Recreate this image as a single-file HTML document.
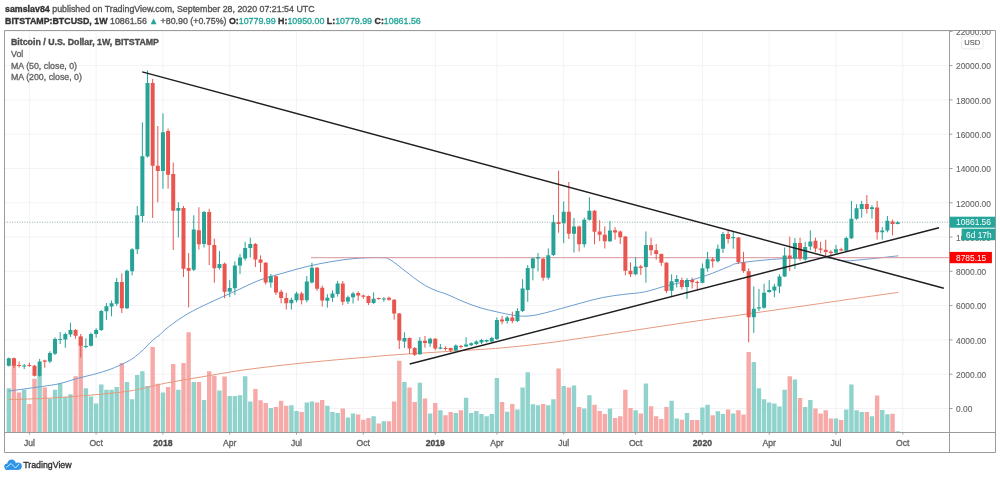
<!DOCTYPE html><html><head><meta charset="utf-8"><style>
html,body{margin:0;padding:0;background:#fff;width:1000px;height:478px;overflow:hidden}
svg{position:absolute;left:0;top:0;will-change:transform}
text{font-family:"Liberation Sans",sans-serif;stroke-width:0.35px}
</style></head><body>
<svg width="1000" height="478" viewBox="0 0 1000 478">
<text x="5" y="12" font-size="8.85" fill="#555" stroke="#555"><tspan font-weight="bold" fill="#333" stroke="#333">samslav84</tspan> published on TradingView.com, September 28, 2020 07:21:54 UTC</text>
<text x="5" y="24" font-size="8.85" fill="#555" stroke="#555"><tspan font-weight="bold" fill="#333" stroke="#333">BITSTAMP:BTCUSD, 1W</tspan> 10861.56 <tspan fill="#26a69a" stroke="#26a69a">&#9650;</tspan> +80.90 (+0.75%) <tspan font-weight="bold" fill="#333" stroke="#333">O:</tspan><tspan fill="#26a69a" stroke="#26a69a">10779.99</tspan> <tspan font-weight="bold" fill="#333" stroke="#333">H:</tspan><tspan fill="#26a69a" stroke="#26a69a">10950.00</tspan> <tspan font-weight="bold" fill="#333" stroke="#333">L:</tspan><tspan fill="#26a69a" stroke="#26a69a">10779.99</tspan> <tspan font-weight="bold" fill="#333" stroke="#333">C:</tspan><tspan fill="#26a69a" stroke="#26a69a">10861.56</tspan></text>
<defs><clipPath id="pc"><rect x="4.5" y="30.5" width="945.0" height="402.0"/></clipPath>
<clipPath id="ac"><rect x="949.5" y="30.5" width="46.0" height="402.0"/></clipPath></defs>
<path d="M4.5 408.5H949.5M4.5 374.2H949.5M4.5 339.9H949.5M4.5 305.6H949.5M4.5 271.3H949.5M4.5 237.0H949.5M4.5 202.8H949.5M4.5 168.5H949.5M4.5 134.2H949.5M4.5 99.9H949.5M4.5 65.6H949.5M4.5 31.3H949.5M29.4 30.5V432.5M96.1 30.5V432.5M162.9 30.5V432.5M229.7 30.5V432.5M296.5 30.5V432.5M363.3 30.5V432.5M435.3 30.5V432.5M496.9 30.5V432.5M563.7 30.5V432.5M635.6 30.5V432.5M702.4 30.5V432.5M769.2 30.5V432.5M836.0 30.5V432.5M902.8 30.5V432.5" stroke="#f3f3f7" stroke-width="1" fill="none" clip-path="url(#pc)"/>
<g clip-path="url(#pc)">
<path d="M6.60 388.2h4.4V432.5h-4.4ZM22.01 389.8h4.4V432.5h-4.4ZM37.43 375.0h4.4V432.5h-4.4ZM47.70 398.6h4.4V432.5h-4.4ZM52.84 389.8h4.4V432.5h-4.4ZM57.98 383.2h4.4V432.5h-4.4ZM63.12 397.0h4.4V432.5h-4.4ZM68.26 394.2h4.4V432.5h-4.4ZM83.67 388.2h4.4V432.5h-4.4ZM88.81 396.4h4.4V432.5h-4.4ZM93.95 403.6h4.4V432.5h-4.4ZM99.08 384.5h4.4V432.5h-4.4ZM104.22 389.8h4.4V432.5h-4.4ZM109.36 389.8h4.4V432.5h-4.4ZM114.50 387.1h4.4V432.5h-4.4ZM124.77 382.1h4.4V432.5h-4.4ZM129.91 399.2h4.4V432.5h-4.4ZM135.05 375.0h4.4V432.5h-4.4ZM140.19 371.3h4.4V432.5h-4.4ZM145.33 386.0h4.4V432.5h-4.4ZM160.74 392.6h4.4V432.5h-4.4ZM176.15 389.8h4.4V432.5h-4.4ZM191.57 382.1h4.4V432.5h-4.4ZM201.84 399.9h4.4V432.5h-4.4ZM217.26 390.4h4.4V432.5h-4.4ZM227.53 395.9h4.4V432.5h-4.4ZM232.67 395.9h4.4V432.5h-4.4ZM237.81 395.3h4.4V432.5h-4.4ZM242.95 376.2h4.4V432.5h-4.4ZM248.09 401.4h4.4V432.5h-4.4ZM268.64 408.0h4.4V432.5h-4.4ZM289.19 405.2h4.4V432.5h-4.4ZM294.33 410.9h4.4V432.5h-4.4ZM304.60 402.5h4.4V432.5h-4.4ZM309.74 401.4h4.4V432.5h-4.4ZM325.16 405.8h4.4V432.5h-4.4ZM330.29 412.0h4.4V432.5h-4.4ZM335.43 413.1h4.4V432.5h-4.4ZM345.71 417.5h4.4V432.5h-4.4ZM350.85 413.5h4.4V432.5h-4.4ZM371.40 416.2h4.4V432.5h-4.4ZM381.67 421.2h4.4V432.5h-4.4ZM402.23 382.1h4.4V432.5h-4.4ZM417.64 382.7h4.4V432.5h-4.4ZM427.92 413.5h4.4V432.5h-4.4ZM438.19 410.2h4.4V432.5h-4.4ZM453.61 413.1h4.4V432.5h-4.4ZM463.88 397.7h4.4V432.5h-4.4ZM469.02 413.1h4.4V432.5h-4.4ZM474.16 410.9h4.4V432.5h-4.4ZM479.30 414.0h4.4V432.5h-4.4ZM484.43 416.2h4.4V432.5h-4.4ZM489.57 414.0h4.4V432.5h-4.4ZM494.71 377.9h4.4V432.5h-4.4ZM504.99 411.8h4.4V432.5h-4.4ZM515.26 409.6h4.4V432.5h-4.4ZM520.40 387.6h4.4V432.5h-4.4ZM525.54 372.2h4.4V432.5h-4.4ZM530.68 404.3h4.4V432.5h-4.4ZM535.81 405.2h4.4V432.5h-4.4ZM546.09 405.2h4.4V432.5h-4.4ZM551.23 399.2h4.4V432.5h-4.4ZM561.50 386.0h4.4V432.5h-4.4ZM571.78 385.4h4.4V432.5h-4.4ZM582.06 408.5h4.4V432.5h-4.4ZM587.19 395.3h4.4V432.5h-4.4ZM607.75 408.5h4.4V432.5h-4.4ZM633.44 410.2h4.4V432.5h-4.4ZM643.71 383.4h4.4V432.5h-4.4ZM669.40 400.8h4.4V432.5h-4.4ZM674.54 418.6h4.4V432.5h-4.4ZM684.82 413.1h4.4V432.5h-4.4ZM700.23 407.4h4.4V432.5h-4.4ZM705.37 404.7h4.4V432.5h-4.4ZM715.64 411.3h4.4V432.5h-4.4ZM720.78 414.0h4.4V432.5h-4.4ZM731.06 413.5h4.4V432.5h-4.4ZM751.61 361.9h4.4V432.5h-4.4ZM756.75 388.2h4.4V432.5h-4.4ZM761.89 399.2h4.4V432.5h-4.4ZM767.02 402.5h4.4V432.5h-4.4ZM772.16 403.6h4.4V432.5h-4.4ZM777.30 406.5h4.4V432.5h-4.4ZM782.44 389.8h4.4V432.5h-4.4ZM792.71 379.5h4.4V432.5h-4.4ZM802.99 406.9h4.4V432.5h-4.4ZM808.13 399.9h4.4V432.5h-4.4ZM833.82 418.6h4.4V432.5h-4.4ZM844.09 409.6h4.4V432.5h-4.4ZM849.23 384.5h4.4V432.5h-4.4ZM854.37 410.2h4.4V432.5h-4.4ZM859.51 412.0h4.4V432.5h-4.4ZM869.78 416.2h4.4V432.5h-4.4ZM880.06 410.0h4.4V432.5h-4.4ZM885.20 414.2h4.4V432.5h-4.4ZM895.47 431.2h4.4V432.5h-4.4Z" fill="#8fd3cc"/>
<path d="M11.74 358.6h4.4V432.5h-4.4ZM16.88 392.6h4.4V432.5h-4.4ZM27.15 404.0h4.4V432.5h-4.4ZM32.29 378.8h4.4V432.5h-4.4ZM42.57 387.6h4.4V432.5h-4.4ZM73.39 376.2h4.4V432.5h-4.4ZM78.53 336.6h4.4V432.5h-4.4ZM119.64 363.0h4.4V432.5h-4.4ZM150.46 347.1h4.4V432.5h-4.4ZM155.60 383.8h4.4V432.5h-4.4ZM165.88 387.1h4.4V432.5h-4.4ZM171.02 364.1h4.4V432.5h-4.4ZM181.29 363.0h4.4V432.5h-4.4ZM186.43 332.2h4.4V432.5h-4.4ZM196.71 382.1h4.4V432.5h-4.4ZM206.98 371.3h4.4V432.5h-4.4ZM212.12 375.7h4.4V432.5h-4.4ZM222.40 376.6h4.4V432.5h-4.4ZM253.22 388.9h4.4V432.5h-4.4ZM258.36 400.3h4.4V432.5h-4.4ZM263.50 403.0h4.4V432.5h-4.4ZM273.78 406.9h4.4V432.5h-4.4ZM278.91 400.8h4.4V432.5h-4.4ZM284.05 405.8h4.4V432.5h-4.4ZM299.47 412.0h4.4V432.5h-4.4ZM314.88 402.5h4.4V432.5h-4.4ZM320.02 399.9h4.4V432.5h-4.4ZM340.57 408.5h4.4V432.5h-4.4ZM355.98 414.6h4.4V432.5h-4.4ZM361.12 419.7h4.4V432.5h-4.4ZM366.26 417.9h4.4V432.5h-4.4ZM376.54 423.4h4.4V432.5h-4.4ZM386.81 421.2h4.4V432.5h-4.4ZM391.95 401.4h4.4V432.5h-4.4ZM397.09 360.8h4.4V432.5h-4.4ZM407.36 387.6h4.4V432.5h-4.4ZM412.50 402.1h4.4V432.5h-4.4ZM422.78 398.6h4.4V432.5h-4.4ZM433.05 403.0h4.4V432.5h-4.4ZM443.33 415.3h4.4V432.5h-4.4ZM448.47 412.0h4.4V432.5h-4.4ZM458.74 410.2h4.4V432.5h-4.4ZM499.85 402.1h4.4V432.5h-4.4ZM510.12 404.1h4.4V432.5h-4.4ZM540.95 404.1h4.4V432.5h-4.4ZM556.37 368.5h4.4V432.5h-4.4ZM566.64 387.6h4.4V432.5h-4.4ZM576.92 406.9h4.4V432.5h-4.4ZM592.33 404.7h4.4V432.5h-4.4ZM597.47 410.9h4.4V432.5h-4.4ZM602.61 414.0h4.4V432.5h-4.4ZM612.88 417.9h4.4V432.5h-4.4ZM618.02 416.2h4.4V432.5h-4.4ZM623.16 389.8h4.4V432.5h-4.4ZM628.30 408.0h4.4V432.5h-4.4ZM638.57 413.5h4.4V432.5h-4.4ZM648.85 406.3h4.4V432.5h-4.4ZM653.99 416.2h4.4V432.5h-4.4ZM659.13 419.0h4.4V432.5h-4.4ZM664.26 406.9h4.4V432.5h-4.4ZM679.68 419.7h4.4V432.5h-4.4ZM689.95 420.1h4.4V432.5h-4.4ZM695.09 420.1h4.4V432.5h-4.4ZM710.51 415.3h4.4V432.5h-4.4ZM725.92 409.6h4.4V432.5h-4.4ZM736.20 410.2h4.4V432.5h-4.4ZM741.33 414.6h4.4V432.5h-4.4ZM746.47 352.0h4.4V432.5h-4.4ZM787.58 376.2h4.4V432.5h-4.4ZM797.85 398.1h4.4V432.5h-4.4ZM813.27 408.5h4.4V432.5h-4.4ZM818.40 413.5h4.4V432.5h-4.4ZM823.54 410.2h4.4V432.5h-4.4ZM828.68 418.4h4.4V432.5h-4.4ZM838.96 420.1h4.4V432.5h-4.4ZM864.65 412.0h4.4V432.5h-4.4ZM874.92 395.5h4.4V432.5h-4.4ZM890.34 413.8h4.4V432.5h-4.4Z" fill="#f6a9a7"/>
<path d="M8.4 399.5 C14.0 399.3 29.2 399.1 41.8 398.5 C54.3 397.9 69.8 396.8 83.7 395.7 C97.7 394.6 115.0 393.0 125.5 391.6 C135.9 390.2 139.4 389.0 146.4 387.5 C153.4 386.0 158.5 384.5 167.4 382.8 C176.3 381.1 187.6 379.3 200.0 377.2 C212.4 375.1 228.0 372.2 242.0 370.2 C256.0 368.2 270.1 366.6 284.0 365.0 C297.9 363.4 311.7 362.1 325.5 360.8 C339.3 359.5 354.6 358.2 367.0 357.2 C379.4 356.1 382.0 355.7 400.0 354.5 C418.0 353.3 457.5 350.9 475.0 349.8 C492.5 348.7 494.2 348.6 505.0 347.6 C515.8 346.6 528.3 345.3 540.0 343.9 C551.7 342.5 559.2 341.4 575.0 339.1 C590.8 336.8 613.8 333.4 635.0 330.2 C656.2 327.0 684.5 322.7 702.0 320.2 C719.5 317.7 723.2 317.4 740.0 315.0 C756.8 312.6 785.5 308.5 803.0 306.0 C820.5 303.5 829.1 302.2 845.0 299.9 C860.9 297.6 889.5 293.6 898.4 292.4" stroke="#e49a7e" stroke-width="1" fill="none"/>
<path d="M8.4 391.1 C14.0 390.3 33.2 387.8 41.8 386.5 C50.4 385.2 54.2 384.9 60.0 383.6 C65.8 382.3 71.1 380.1 76.7 378.6 C82.3 377.1 88.0 375.9 93.5 374.4 C99.0 372.9 104.4 371.5 110.0 369.4 C115.6 367.3 122.8 363.9 127.0 361.8 C131.2 359.7 132.5 358.6 135.3 356.5 C138.1 354.4 140.9 351.9 143.7 349.3 C146.5 346.7 149.2 343.4 152.0 340.9 C154.8 338.4 157.6 336.6 160.4 334.2 C163.2 331.8 164.2 330.1 168.8 326.7 C173.4 323.3 180.8 317.8 188.0 313.6 C195.2 309.4 204.0 305.4 212.0 301.6 C220.0 297.8 228.0 294.4 236.0 290.8 C244.0 287.2 252.0 283.0 260.0 280.0 C268.0 277.0 276.0 275.1 284.0 272.8 C292.0 270.5 300.0 268.2 308.0 266.3 C316.0 264.4 324.0 262.8 332.0 261.5 C340.0 260.2 348.0 259.0 356.0 258.4 C364.0 257.8 374.3 257.4 380.0 257.6 C385.7 257.8 385.8 257.5 390.0 259.7 C394.2 261.9 399.7 266.9 405.0 270.9 C410.3 274.9 417.0 280.3 422.0 283.5 C427.0 286.7 430.8 288.4 435.0 290.2 C439.2 292.0 442.2 292.4 447.0 294.4 C451.8 296.3 458.5 299.7 464.0 301.9 C469.5 304.1 474.5 306.0 480.0 307.7 C485.5 309.4 491.3 310.6 497.0 311.9 C502.7 313.2 509.0 314.6 514.0 315.3 C519.0 316.0 522.7 316.3 527.0 316.1 C531.3 315.9 534.4 315.4 540.0 314.1 C545.6 312.9 553.9 310.5 560.9 308.6 C567.9 306.7 574.8 304.7 581.8 302.8 C588.8 300.9 595.8 298.9 602.8 297.5 C609.8 296.1 616.7 295.3 623.7 294.4 C630.7 293.5 637.6 293.3 644.6 291.9 C651.6 290.5 658.5 287.8 665.5 286.0 C672.5 284.2 679.4 283.2 686.4 281.4 C693.4 279.6 700.4 277.5 707.4 275.1 C714.4 272.7 722.9 268.8 728.3 266.8 C733.7 264.8 731.1 264.2 740.0 262.9 C748.9 261.5 767.8 259.6 781.8 258.7 C795.8 257.8 813.2 257.3 823.7 257.7 C834.2 258.1 837.6 260.5 844.6 260.8 C851.6 261.1 856.5 260.1 865.5 259.3 C874.5 258.5 892.9 256.4 898.4 255.8" stroke="#6c9dd0" stroke-width="1" fill="none"/>
<path d="M311 257.7H949.5" stroke="#d9959d" stroke-width="1" fill="none"/>
<path d="M4.5 222.2H949.5" stroke="#7d9995" stroke-width="1" stroke-dasharray="1,1.5" fill="none" opacity="0.8"/>
<path d="M8.80 357.5V366.5M24.21 364.0V369.0M39.63 358.9V376.5M49.90 351.3V363.2M55.04 337.3V355.0M60.18 332.0V344.0M65.32 332.6V347.7M70.46 322.8V337.0M85.87 338.3V348.3M91.01 332.5V346.5M96.15 328.2V337.6M101.28 310.0V331.0M106.42 303.0V320.0M111.56 300.5V316.3M116.70 278.0V305.8M126.97 269.5V309.0M132.11 248.2V275.4M137.25 206.0V254.0M142.39 122.3V222.2M147.53 70.5V157.5M162.94 113.3V188.7M178.35 202.3V237.5M193.77 215.3V271.0M204.04 211.0V247.5M219.46 251.0V269.7M229.73 280.2V297.0M234.87 261.4V294.9M240.01 254.0V274.0M245.15 241.8V260.7M250.29 237.7V257.5M270.84 274.0V287.7M291.39 297.7V309.6M296.53 291.8V302.3M306.80 276.0V302.3M311.94 262.6V283.5M327.36 294.2V307.6M332.49 290.3V301.8M337.63 280.9V296.6M347.91 295.6V304.0M353.05 291.8V303.5M373.60 292.4V304.0M383.87 297.2V301.8M404.43 332.4V348.0M419.84 337.2V354.8M430.12 337.7V347.0M440.39 344.0V349.2M455.81 344.4V351.3M466.08 337.3V347.0M471.22 342.3V346.0M476.36 340.4V345.2M481.50 338.9V344.1M486.63 339.5V342.5M491.77 336.8V342.0M496.91 317.4V340.0M507.19 315.9V323.6M517.46 308.2V322.0M522.60 279.2V312.0M527.74 265.1V301.9M532.88 257.5V280.3M538.01 253.0V271.4M548.29 248.4V279.7M553.43 215.0V256.0M563.70 201.4V243.2M573.98 218.0V252.6M584.26 217.7V247.4M589.39 197.2V220.5M609.95 220.9V242.0M635.64 257.5V275.3M645.91 231.4V282.6M671.60 274.3V296.2M676.74 275.0V287.5M687.02 278.0V298.9M702.43 263.4V283.2M707.57 251.8V271.7M717.84 244.5V262.3M722.98 232.0V252.9M733.26 232.0V248.7M753.81 286.4V332.9M758.95 289.0V311.0M764.09 283.7V308.8M769.22 280.1V292.7M774.36 283.7V297.3M779.50 274.3V293.1M784.64 247.5V277.0M794.91 238.0V269.0M805.19 241.8V260.7M810.33 230.3V250.2M836.02 245.0V254.4M846.29 236.6V251.9M851.43 200.9V239.0M856.57 204.2V219.8M861.71 200.9V217.7M871.98 205.1V218.7M882.26 227.0V239.6M887.40 216.0V232.3M897.67 221.2V224.4" stroke="#26a296" stroke-width="1" fill="none"/>
<path d="M13.94 357.5V368.0M19.08 361.5V367.5M29.35 362.5V367.0M34.49 365.0V376.5M44.77 359.6V367.7M75.59 329.0V338.8M80.73 334.0V357.5M121.84 273.3V313.0M152.66 79.0V218.0M157.80 126.0V202.3M168.08 128.6V188.7M173.22 162.5V250.0M183.49 206.0V277.0M188.63 253.0V307.4M198.91 207.3V249.5M209.18 208.8V265.0M214.32 238.6V282.8M224.60 262.5V298.2M255.42 243.0V267.0M260.56 255.4V272.1M265.70 262.0V284.6M275.98 275.5V295.0M281.11 289.7V303.3M286.25 292.9V309.6M301.67 291.8V304.4M317.08 267.0V290.8M322.22 285.6V306.5M342.77 281.0V305.0M358.18 291.4V300.8M363.32 294.5V298.7M368.46 295.5V305.0M378.74 297.6V299.8M389.01 296.6V300.8M394.15 299.0V319.6M399.29 313.0V349.0M409.56 337.5V354.0M414.70 347.0V356.0M424.98 336.0V347.7M435.25 338.0V350.2M445.53 346.4V350.6M450.67 347.7V352.3M460.94 345.0V348.5M502.05 315.9V324.3M512.32 311.7V323.2M543.15 258.0V280.8M558.57 170.7V232.8M568.84 182.0V239.0M579.12 225.5V251.6M594.53 210.0V244.3M599.67 220.2V241.1M604.81 226.3V248.5M615.08 227.2V239.7M620.22 230.5V244.0M625.36 236.0V275.3M630.50 262.3V277.0M640.77 264.8V274.9M651.05 237.7V255.4M656.19 244.0V259.6M661.33 253.5V265.9M666.46 262.0V293.1M681.88 277.5V289.5M692.15 277.5V288.5M697.29 280.7V289.5M712.71 257.1V267.5M728.12 229.9V243.5M738.40 237.0V264.0M743.53 251.8V272.8M748.67 268.4V342.3M789.78 236.6V271.1M800.05 237.7V260.7M815.47 237.7V252.3M820.60 241.8V253.3M825.74 239.7V256.5M830.88 250.2V256.5M841.16 247.7V251.3M866.85 195.0V213.5M877.12 200.9V239.6M892.54 219.7V235.4" stroke="#e8564f" stroke-width="1" fill="none"/>
<path d="M6.80 358.2h4.0V365.8h-4.0ZM22.21 365.4h4.0V366.6h-4.0ZM37.63 361.4h4.0V375.8h-4.0ZM47.90 352.9h4.0V361.6h-4.0ZM53.04 339.0h4.0V353.8h-4.0ZM58.18 338.9h4.0V340.1h-4.0ZM63.32 334.1h4.0V339.5h-4.0ZM68.46 330.1h4.0V334.5h-4.0ZM83.87 345.9h4.0V347.1h-4.0ZM89.01 333.9h4.0V345.8h-4.0ZM94.15 330.1h4.0V333.9h-4.0ZM99.28 311.0h4.0V330.1h-4.0ZM104.42 306.3h4.0V311.2h-4.0ZM109.56 303.2h4.0V306.6h-4.0ZM114.70 282.1h4.0V303.7h-4.0ZM124.97 270.8h4.0V308.3h-4.0ZM130.11 249.3h4.0V271.3h-4.0ZM135.25 215.3h4.0V249.3h-4.0ZM140.39 156.3h4.0V215.9h-4.0ZM145.53 83.0h4.0V156.5h-4.0ZM160.94 132.2h4.0V171.0h-4.0ZM176.35 208.0h4.0V210.7h-4.0ZM191.77 229.5h4.0V269.7h-4.0ZM202.04 212.1h4.0V244.1h-4.0ZM217.46 263.9h4.0V268.0h-4.0ZM227.73 288.0h4.0V291.8h-4.0ZM232.87 265.5h4.0V288.2h-4.0ZM238.01 257.4h4.0V265.5h-4.0ZM243.15 248.0h4.0V258.4h-4.0ZM248.29 243.9h4.0V248.1h-4.0ZM268.84 276.3h4.0V282.5h-4.0ZM289.39 299.8h4.0V303.3h-4.0ZM294.53 293.5h4.0V300.2h-4.0ZM304.80 281.4h4.0V300.2h-4.0ZM309.94 267.8h4.0V282.4h-4.0ZM325.36 297.7h4.0V300.7h-4.0ZM330.49 293.5h4.0V297.7h-4.0ZM335.63 283.4h4.0V293.9h-4.0ZM345.91 297.2h4.0V301.4h-4.0ZM351.05 293.5h4.0V297.2h-4.0ZM371.60 298.7h4.0V302.9h-4.0ZM381.87 298.4h4.0V299.6h-4.0ZM402.43 337.9h4.0V341.6h-4.0ZM417.84 340.8h4.0V354.2h-4.0ZM428.12 338.7h4.0V343.5h-4.0ZM438.39 347.5h4.0V348.7h-4.0ZM453.81 345.6h4.0V350.6h-4.0ZM464.08 344.4h4.0V346.6h-4.0ZM469.22 343.3h4.0V345.2h-4.0ZM474.36 341.6h4.0V344.1h-4.0ZM479.50 340.0h4.0V342.5h-4.0ZM484.63 340.0h4.0V341.6h-4.0ZM489.77 337.9h4.0V341.6h-4.0ZM494.91 320.0h4.0V338.9h-4.0ZM505.19 317.4h4.0V321.1h-4.0ZM515.46 311.0h4.0V321.1h-4.0ZM520.60 288.6h4.0V311.0h-4.0ZM525.74 268.0h4.0V290.0h-4.0ZM530.88 258.6h4.0V268.2h-4.0ZM536.01 257.2h4.0V258.4h-4.0ZM546.29 255.2h4.0V277.7h-4.0ZM551.43 222.3h4.0V255.0h-4.0ZM561.70 211.8h4.0V223.3h-4.0ZM571.98 226.5h4.0V233.8h-4.0ZM582.26 219.8h4.0V244.3h-4.0ZM587.39 210.8h4.0V219.8h-4.0ZM607.95 230.5h4.0V241.2h-4.0ZM633.64 266.5h4.0V274.3h-4.0ZM643.91 245.0h4.0V266.9h-4.0ZM669.60 281.3h4.0V290.8h-4.0ZM674.74 279.0h4.0V282.1h-4.0ZM685.02 280.0h4.0V287.0h-4.0ZM700.43 268.2h4.0V282.8h-4.0ZM705.57 259.2h4.0V268.6h-4.0ZM715.84 248.7h4.0V261.3h-4.0ZM720.98 234.0h4.0V248.7h-4.0ZM731.26 237.1h4.0V238.3h-4.0ZM751.81 308.8h4.0V317.2h-4.0ZM756.95 307.2h4.0V308.4h-4.0ZM762.09 292.7h4.0V307.8h-4.0ZM767.22 290.0h4.0V292.1h-4.0ZM772.36 286.4h4.0V290.6h-4.0ZM777.50 276.4h4.0V286.6h-4.0ZM782.64 255.5h4.0V276.6h-4.0ZM792.91 242.9h4.0V258.6h-4.0ZM803.19 247.0h4.0V259.6h-4.0ZM808.33 241.4h4.0V246.4h-4.0ZM834.02 249.2h4.0V252.7h-4.0ZM844.29 238.1h4.0V250.8h-4.0ZM849.43 218.8h4.0V238.3h-4.0ZM854.57 208.2h4.0V218.8h-4.0ZM859.71 204.1h4.0V208.9h-4.0ZM869.98 207.2h4.0V208.9h-4.0ZM880.26 230.6h4.0V232.3h-4.0ZM885.40 220.8h4.0V230.6h-4.0ZM895.67 222.3h4.0V223.9h-4.0Z" fill="#26a296"/>
<path d="M11.94 358.2h4.0V365.8h-4.0ZM17.08 364.9h4.0V366.1h-4.0ZM27.35 364.9h4.0V366.1h-4.0ZM32.49 365.8h4.0V375.8h-4.0ZM42.77 360.6h4.0V361.8h-4.0ZM73.59 330.1h4.0V335.8h-4.0ZM78.73 336.4h4.0V345.8h-4.0ZM119.84 282.1h4.0V308.3h-4.0ZM150.66 83.0h4.0V165.7h-4.0ZM155.80 165.7h4.0V171.0h-4.0ZM166.08 131.1h4.0V174.7h-4.0ZM171.22 174.0h4.0V210.7h-4.0ZM181.49 208.0h4.0V268.7h-4.0ZM186.63 268.0h4.0V270.8h-4.0ZM196.91 230.3h4.0V244.3h-4.0ZM207.18 212.1h4.0V245.0h-4.0ZM212.32 245.0h4.0V268.3h-4.0ZM222.60 263.7h4.0V291.8h-4.0ZM253.42 243.9h4.0V259.5h-4.0ZM258.56 259.5h4.0V262.7h-4.0ZM263.70 262.7h4.0V282.5h-4.0ZM273.98 276.3h4.0V292.5h-4.0ZM279.11 291.8h4.0V298.1h-4.0ZM284.25 298.1h4.0V303.3h-4.0ZM299.67 293.5h4.0V300.2h-4.0ZM315.08 267.8h4.0V288.7h-4.0ZM320.22 287.7h4.0V300.6h-4.0ZM340.77 283.4h4.0V301.8h-4.0ZM356.18 293.0h4.0V295.6h-4.0ZM361.32 295.5h4.0V296.7h-4.0ZM366.46 296.0h4.0V302.9h-4.0ZM376.74 297.9h4.0V299.1h-4.0ZM387.01 297.7h4.0V299.7h-4.0ZM392.15 299.7h4.0V313.4h-4.0ZM397.29 313.4h4.0V340.6h-4.0ZM407.56 338.0h4.0V348.5h-4.0ZM412.70 348.1h4.0V354.8h-4.0ZM422.98 340.8h4.0V342.9h-4.0ZM433.25 338.7h4.0V348.5h-4.0ZM443.53 347.9h4.0V349.1h-4.0ZM448.67 348.1h4.0V350.6h-4.0ZM458.94 345.9h4.0V347.1h-4.0ZM500.05 319.5h4.0V321.5h-4.0ZM510.32 317.4h4.0V321.1h-4.0ZM541.15 258.8h4.0V277.7h-4.0ZM556.57 222.3h4.0V224.0h-4.0ZM566.84 211.8h4.0V233.8h-4.0ZM577.12 226.5h4.0V244.3h-4.0ZM592.53 210.8h4.0V231.7h-4.0ZM597.67 231.5h4.0V234.7h-4.0ZM602.81 234.7h4.0V241.2h-4.0ZM613.08 230.3h4.0V232.4h-4.0ZM618.22 231.4h4.0V237.2h-4.0ZM623.36 236.6h4.0V270.7h-4.0ZM628.50 270.7h4.0V274.3h-4.0ZM638.77 266.5h4.0V268.0h-4.0ZM649.05 245.0h4.0V250.2h-4.0ZM654.19 250.2h4.0V254.0h-4.0ZM659.33 254.0h4.0V262.8h-4.0ZM664.46 262.8h4.0V291.0h-4.0ZM679.88 280.0h4.0V287.0h-4.0ZM690.15 280.0h4.0V282.2h-4.0ZM695.29 281.9h4.0V283.1h-4.0ZM710.71 259.2h4.0V261.3h-4.0ZM726.12 234.0h4.0V238.9h-4.0ZM736.40 237.6h4.0V262.3h-4.0ZM741.53 262.5h4.0V271.1h-4.0ZM746.67 271.2h4.0V317.2h-4.0ZM787.78 255.5h4.0V258.6h-4.0ZM798.05 242.9h4.0V258.6h-4.0ZM813.47 240.8h4.0V248.5h-4.0ZM818.60 248.5h4.0V249.8h-4.0ZM823.74 249.8h4.0V251.9h-4.0ZM828.88 251.7h4.0V252.9h-4.0ZM839.16 249.2h4.0V250.6h-4.0ZM864.85 204.1h4.0V208.9h-4.0ZM875.12 207.6h4.0V232.3h-4.0ZM890.54 221.4h4.0V223.9h-4.0Z" fill="#e8564f"/>
<path d="M142.2 71.9L943.8 288.3" stroke="#1e1e1e" stroke-width="1.45" fill="none"/>
<path d="M409.7 364L939 227.8" stroke="#1e1e1e" stroke-width="1.45" fill="none"/>
</g>
<text x="11" y="45.3" font-size="8.8" font-weight="bold" fill="#4d4d4d" stroke="#4d4d4d">Bitcoin / U.S. Dollar, 1W, BITSTAMP</text>
<text x="11" y="56.9" font-size="8.8" fill="#666" stroke="#666">Vol</text>
<text x="11" y="68.6" font-size="8.8" fill="#666" stroke="#666">MA (50, close, 0)</text>
<text x="11" y="80.2" font-size="8.8" fill="#666" stroke="#666">MA (200, close, 0)</text>
<path d="M4.5 30.5H995.5V452.5H4.5Z" stroke="#9b9b9b" stroke-width="1" fill="none"/>
<path d="M949.5 30.5V452.5M4.5 432.5H995.5" stroke="#9b9b9b" stroke-width="1" fill="none"/>
<g clip-path="url(#ac)">
<path d="M949.5 408.5h3" stroke="#9b9b9b" stroke-width="1"/>
<text x="956" y="412.3" font-size="8.4" fill="#666" stroke="#666" style="stroke-width:0.12px">0.00</text>
<path d="M949.5 374.2h3" stroke="#9b9b9b" stroke-width="1"/>
<text x="956" y="378.0" font-size="8.4" fill="#666" stroke="#666" style="stroke-width:0.12px">2000.00</text>
<path d="M949.5 339.9h3" stroke="#9b9b9b" stroke-width="1"/>
<text x="956" y="343.7" font-size="8.4" fill="#666" stroke="#666" style="stroke-width:0.12px">4000.00</text>
<path d="M949.5 305.6h3" stroke="#9b9b9b" stroke-width="1"/>
<text x="956" y="309.4" font-size="8.4" fill="#666" stroke="#666" style="stroke-width:0.12px">6000.00</text>
<path d="M949.5 271.3h3" stroke="#9b9b9b" stroke-width="1"/>
<text x="956" y="275.1" font-size="8.4" fill="#666" stroke="#666" style="stroke-width:0.12px">8000.00</text>
<path d="M949.5 237.0h3" stroke="#9b9b9b" stroke-width="1"/>
<text x="956" y="240.8" font-size="8.4" fill="#666" stroke="#666" style="stroke-width:0.12px">10000.00</text>
<path d="M949.5 202.8h3" stroke="#9b9b9b" stroke-width="1"/>
<text x="956" y="206.6" font-size="8.4" fill="#666" stroke="#666" style="stroke-width:0.12px">12000.00</text>
<path d="M949.5 168.5h3" stroke="#9b9b9b" stroke-width="1"/>
<text x="956" y="172.3" font-size="8.4" fill="#666" stroke="#666" style="stroke-width:0.12px">14000.00</text>
<path d="M949.5 134.2h3" stroke="#9b9b9b" stroke-width="1"/>
<text x="956" y="138.0" font-size="8.4" fill="#666" stroke="#666" style="stroke-width:0.12px">16000.00</text>
<path d="M949.5 99.9h3" stroke="#9b9b9b" stroke-width="1"/>
<text x="956" y="103.7" font-size="8.4" fill="#666" stroke="#666" style="stroke-width:0.12px">18000.00</text>
<path d="M949.5 65.6h3" stroke="#9b9b9b" stroke-width="1"/>
<text x="956" y="69.4" font-size="8.4" fill="#666" stroke="#666" style="stroke-width:0.12px">20000.00</text>
<path d="M949.5 31.3h3" stroke="#9b9b9b" stroke-width="1"/>
<text x="956" y="35.1" font-size="8.4" fill="#666" stroke="#666" style="stroke-width:0.12px">22000.00</text>
</g>
<rect x="961.6" y="36" width="21.4" height="12.9" rx="2" fill="#fff" stroke="#e4e4e4" stroke-width="0.8"/>
<text x="972.3" y="45" font-size="7.6" fill="#555" stroke="#555" text-anchor="middle" style="stroke-width:0.1px">USD</text>
<rect x="949.7" y="216.7" width="45.5" height="11" fill="#26a69a"/>
<text x="956" y="225.3" font-size="8.4" fill="#fff">10861.56</text>
<rect x="961.6" y="228.7" width="33.6" height="11.5" fill="#26a69a"/>
<text x="966" y="237.5" font-size="8.4" fill="#fff">6d 17h</text>
<rect x="949.7" y="251.9" width="42.2" height="11.3" fill="#f00"/>
<text x="956" y="260.7" font-size="8.4" fill="#fff">8785.15</text>
<path d="M29.4 432.5v2" stroke="#9b9b9b" stroke-width="1"/>
<text x="29.4" y="446" font-size="8.6" fill="#666" stroke="#666" text-anchor="middle">Jul</text>
<path d="M96.1 432.5v2" stroke="#9b9b9b" stroke-width="1"/>
<text x="96.1" y="446" font-size="8.6" fill="#666" stroke="#666" text-anchor="middle">Oct</text>
<path d="M162.9 432.5v2" stroke="#9b9b9b" stroke-width="1"/>
<text x="162.9" y="446" font-size="8.6" fill="#4d4d4d" stroke="#4d4d4d" text-anchor="middle" font-weight="bold">2018</text>
<path d="M229.7 432.5v2" stroke="#9b9b9b" stroke-width="1"/>
<text x="229.7" y="446" font-size="8.6" fill="#666" stroke="#666" text-anchor="middle">Apr</text>
<path d="M296.5 432.5v2" stroke="#9b9b9b" stroke-width="1"/>
<text x="296.5" y="446" font-size="8.6" fill="#666" stroke="#666" text-anchor="middle">Jul</text>
<path d="M363.3 432.5v2" stroke="#9b9b9b" stroke-width="1"/>
<text x="363.3" y="446" font-size="8.6" fill="#666" stroke="#666" text-anchor="middle">Oct</text>
<path d="M435.3 432.5v2" stroke="#9b9b9b" stroke-width="1"/>
<text x="435.3" y="446" font-size="8.6" fill="#4d4d4d" stroke="#4d4d4d" text-anchor="middle" font-weight="bold">2019</text>
<path d="M496.9 432.5v2" stroke="#9b9b9b" stroke-width="1"/>
<text x="496.9" y="446" font-size="8.6" fill="#666" stroke="#666" text-anchor="middle">Apr</text>
<path d="M563.7 432.5v2" stroke="#9b9b9b" stroke-width="1"/>
<text x="563.7" y="446" font-size="8.6" fill="#666" stroke="#666" text-anchor="middle">Jul</text>
<path d="M635.6 432.5v2" stroke="#9b9b9b" stroke-width="1"/>
<text x="635.6" y="446" font-size="8.6" fill="#666" stroke="#666" text-anchor="middle">Oct</text>
<path d="M702.4 432.5v2" stroke="#9b9b9b" stroke-width="1"/>
<text x="702.4" y="446" font-size="8.6" fill="#4d4d4d" stroke="#4d4d4d" text-anchor="middle" font-weight="bold">2020</text>
<path d="M769.2 432.5v2" stroke="#9b9b9b" stroke-width="1"/>
<text x="769.2" y="446" font-size="8.6" fill="#666" stroke="#666" text-anchor="middle">Apr</text>
<path d="M836.0 432.5v2" stroke="#9b9b9b" stroke-width="1"/>
<text x="836.0" y="446" font-size="8.6" fill="#666" stroke="#666" text-anchor="middle">Jul</text>
<path d="M902.8 432.5v2" stroke="#9b9b9b" stroke-width="1"/>
<text x="902.8" y="446" font-size="8.6" fill="#666" stroke="#666" text-anchor="middle">Oct</text>
<g fill="#2f93e8"><circle cx="7.4" cy="466.6" r="3.1"/><circle cx="11.6" cy="463.8" r="4.2"/><circle cx="18.2" cy="466.2" r="3.6"/><rect x="5.5" y="466" width="13" height="3.9"/></g>
<path d="M6.2 467.5L11.1 463.5L15.6 468L19.2 463.7" stroke="#c8f0ff" stroke-width="1" fill="none"/>
<text x="23.2" y="467.6" font-size="8.8" fill="#333" stroke="#333">TradingView</text>
</svg></body></html>
